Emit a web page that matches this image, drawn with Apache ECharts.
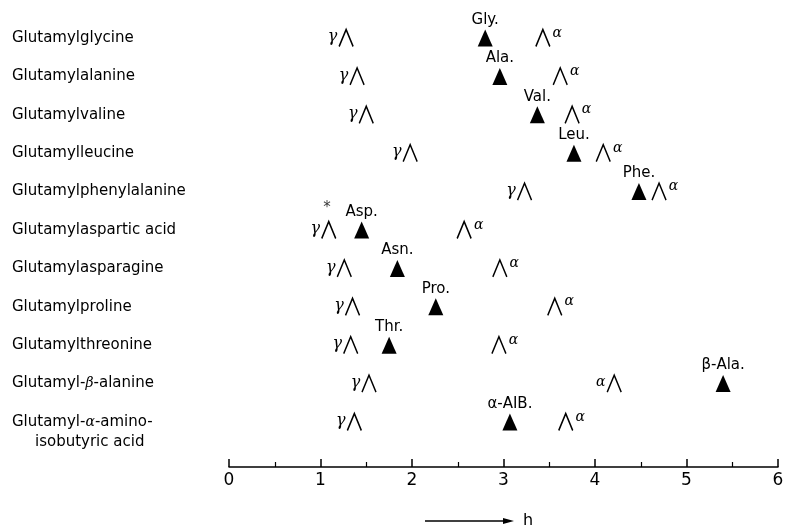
<!DOCTYPE html>
<html>
<head>
<meta charset="utf-8">
<script src="https://cdn.jsdelivr.net/npm/echarts@6/dist/echarts.min.js"></script>
<style>
html,body{margin:0;padding:0;background:#fff;}
#main{width:785px;height:527px;}
</style>
</head>
<body>
<div id="main"></div>
<script>
var compounds = [
  'Glutamylglycine', 'Glutamylalanine', 'Glutamylvaline', 'Glutamylleucine',
  'Glutamylphenylalanine', 'Glutamylaspartic acid', 'Glutamylasparagine',
  'Glutamylproline', 'Glutamylthreonine', 'Glutamyl-β-alanine',
  'Glutamyl-α-amino-\nisobutyric acid'
];
// gamma-peptide peak positions (h)
var gammaPos = [1.28, 1.40, 1.50, 1.98, 3.23, 1.09, 1.26, 1.35, 1.33, 1.53, 1.37];
// alpha-peptide peak positions (h)
var alphaPos = [3.43, 3.62, 3.75, 4.09, 4.70, 2.57, 2.96, 3.56, 2.95, 4.21, 3.68];
// free amino acid positions (h)
var freePos = [2.80, 2.96, 3.37, 3.77, 4.48, 1.45, 1.84, 2.26, 1.75, 5.40, 3.07];
var freeNames = ['Gly.', 'Ala.', 'Val.', 'Leu.', 'Phe.', 'Asp.', 'Asn.', 'Pro.', 'Thr.', 'β-Ala.', 'α-AIB.'];
// asterisk note
var notePos = [1.07];
var noteRows = ['Glutamylaspartic acid'];
var xTicks = [0, 1, 2, 3, 4, 5, 6];

var FONT = '"DejaVu Sans", sans-serif';
var SERIF = '"DejaVu Serif", serif';
var caret = 'path://M0,20L10,0L20,20';

var gammaData = compounds.map(function (c, i) { return [gammaPos[i], c]; });
var alphaData = compounds.map(function (c, i) {
  var leftSide = (i === 9);
  return {
    value: [alphaPos[i], c],
    label: leftSide ? { position: 'left', distance: 1, offset: [0, -1] } : {}
  };
});
var freeData = compounds.map(function (c, i) { return { value: [freePos[i], c], name: freeNames[i] }; });
var noteData = noteRows.map(function (r, i) { return [notePos[i], r]; });

var yData = compounds.map(function (c) {
  if (c.indexOf('\n') >= 0) {
    return { value: c, textStyle: { align: 'left', padding: [20, 0, 0, 0], lineHeight: 20 } };
  }
  return c;
});

var chart = echarts.init(document.getElementById('main'), null, { renderer: 'canvas' });
chart.setOption({
  backgroundColor: '#fff',
  animation: false,
  grid: { left: 229, right: 7, top: 18.8, bottom: 85.8, containLabel: false, outerBoundsMode: 'none' },
  xAxis: {
    type: 'value', min: 0, max: 6, interval: 1, offset: 25.8,
    axisLine: { show: true, lineStyle: { color: '#000', width: 1.5 } },
    axisTick: { show: true, inside: true, length: 8, lineStyle: { color: '#000', width: 1.5 } },
    minorTick: { show: true, splitNumber: 2, length: 5, lineStyle: { color: '#000', width: 1.2 } },
    splitLine: { show: false },
    axisLabel: {
      color: '#000', fontSize: 17, fontFamily: FONT, margin: 5,
      formatter: function (v) { return xTicks.indexOf(v) >= 0 ? String(v) : ''; }
    }
  },
  yAxis: {
    type: 'category', data: yData, inverse: true,
    axisLine: { show: false }, axisTick: { show: false }, splitLine: { show: false },
    axisLabel: {
      color: '#000', fontSize: 15, fontFamily: FONT, align: 'left', margin: 217,
      formatter: function (v) {
        if (v.indexOf('\n') >= 0) {
          var p = v.split('\n');
          return p[0].replace('α', '{g|α}') + '\n{ind|' + p[1] + '}';
        }
        return v.replace('β', '{g|β}');
      },
      rich: {
        g: { fontStyle: 'italic', fontFamily: SERIF, fontSize: 14, color: '#000' },
        ind: { padding: [0, 0, 0, 23], fontSize: 15, fontFamily: FONT, color: '#000' }
      }
    }
  },
  series: [
    {
      name: 'gamma', type: 'scatter', data: gammaData,
      symbol: caret, symbolSize: [14, 17],
      itemStyle: { color: 'rgba(0,0,0,0)', borderColor: '#000', borderWidth: 1.6, opacity: 1 },
      label: {
        show: true, formatter: 'γ', position: 'left', distance: 1, offset: [0, -1],
        color: '#000', fontSize: 16, fontStyle: 'italic', fontFamily: SERIF
      }
    },
    {
      name: 'alpha', type: 'scatter', data: alphaData,
      symbol: caret, symbolSize: [14, 17],
      itemStyle: { color: 'rgba(0,0,0,0)', borderColor: '#000', borderWidth: 1.6, opacity: 1 },
      label: {
        show: true, formatter: 'α', position: 'right', distance: 2, offset: [0, -5],
        color: '#000', fontSize: 14, fontStyle: 'italic', fontFamily: SERIF
      }
    },
    {
      name: 'free', type: 'scatter', data: freeData,
      symbol: 'triangle', symbolSize: [15, 17],
      itemStyle: { color: '#000', opacity: 1 },
      label: {
        show: true, formatter: '{b}', position: 'top', distance: 2,
        color: '#000', fontSize: 15, fontFamily: FONT
      }
    },
    {
      name: 'note', type: 'scatter', data: noteData,
      symbol: 'circle', symbolSize: 0,
      label: {
        show: true, formatter: '*', position: 'inside', offset: [0, -22],
        color: '#000', fontSize: 15, fontFamily: FONT
      }
    }
  ],
  graphic: [
    {
      type: 'group', x: 425, y: 521,
      children: [
        { type: 'line', shape: { x1: 0, y1: 0, x2: 80, y2: 0 }, style: { stroke: '#000', lineWidth: 1.5 } },
        { type: 'polygon', shape: { points: [[78, -3], [89, 0], [78, 3]] }, style: { fill: '#000' } },
        { type: 'text', x: 98, y: 0, style: { text: 'h', fontSize: 16, fontFamily: FONT, fill: '#000', verticalAlign: 'middle' } }
      ]
    }
  ]
});
</script>
</body>
</html>
